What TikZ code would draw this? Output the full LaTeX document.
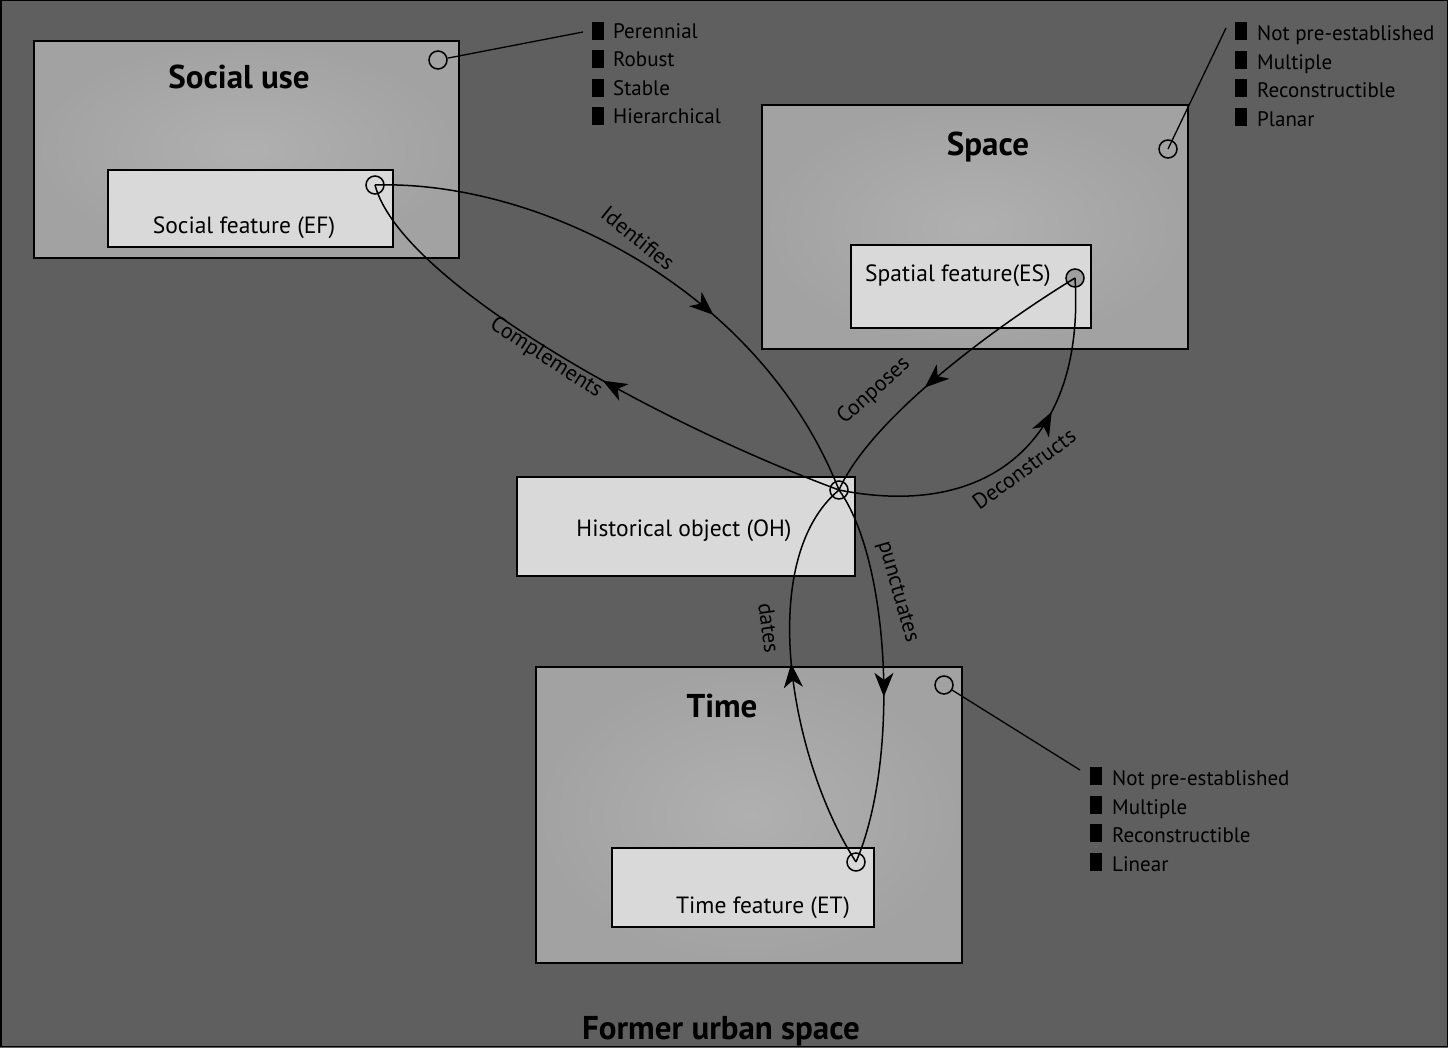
\documentclass[tikz,border=0pt]{standalone}
\usepackage{fontspec}
\setmainfont{PT Sans}
\usetikzlibrary{arrows.meta,decorations.markings}
\definecolor{groundgray}{HTML}{5F5F5F}
\definecolor{boxinner}{HTML}{B0B0B0}
\definecolor{boxouter}{HTML}{A2A2A2}
\definecolor{featgray}{HTML}{D9D9D9}
\tikzset{
  outerbox/.style={draw=black, line width=1.8pt, inner color=boxinner, outer color=boxouter},
  featbox/.style={draw=black, line width=1.8pt, fill=featgray},
  boxtitle/.style={font=\fontsize{33}{36}\selectfont\bfseries},
  feattext/.style={font=\fontsize{23.5}{26}\selectfont},
  port/.style={circle, draw=black, line width=1.5pt, minimum size=18pt, inner sep=0pt},
  sqbullet/.style={fill=black, minimum width=12pt, minimum height=18pt, inner sep=0pt},
  item/.style={anchor=west, inner sep=0pt, text height=15pt, text depth=4pt, font=\fontsize{21}{24}\selectfont},
  flowlabel/.style={inner sep=0pt, font=\fontsize{22}{24}\selectfont},
  flow/.style={line width=1.5pt, decoration={markings, mark=at position #1 with {\arrow{Stealth[length=24pt,width=19pt,inset=7pt]}}}, postaction=decorate},
  leader/.style={line width=1.3pt}
}
\begin{document}
\begin{tikzpicture}[x=1pt, y=-1pt]
        \fill[groundgray] (0,0) rectangle (1448,1048);
        \useasboundingbox (0,0) rectangle (1448,1048);
        \draw[line width=1.5pt] (0.75,0.75) rectangle (1447.25,1046.5);
        % boxes
        \node[outerbox, minimum width=425pt, minimum height=217pt] (SU) at (246.5,149.5) {};
        \node[boxtitle] (SU_t) at (239,77) {Social use};
        \node[featbox, minimum width=285pt, minimum height=77pt] (SF) at (250.5,208.5) {};
        \node[feattext] (SF_t) at (244,228) {Social feature (EF)};
        \node[outerbox, minimum width=426pt, minimum height=244pt] (SP) at (975,227) {};
        \node[boxtitle] (SP_t) at (988,147) {Space};
        \node[featbox, minimum width=240pt, minimum height=83pt] (ES) at (971,286.5) {};
        \node[feattext] (ES_t) at (958,276) {Spatial feature(ES)};
        \node[featbox, minimum width=338pt, minimum height=99pt] (OH) at (686,526.5) {};
        \node[feattext] (OH_t) at (684,531) {Historical object (OH)};
        \node[outerbox, minimum width=426pt, minimum height=296pt] (TI) at (749,815) {};
        \node[boxtitle] (TI_t) at (722,706) {Time};
        \node[featbox, minimum width=262pt, minimum height=79pt] (ET) at (743,887.5) {};
        \node[feattext] (ET_t) at (763,908) {Time feature (ET)};
        \node[boxtitle] (FU_t) at (721,1031) {Former urban space};
        % ports
        \node[port] (SU_p) at (438,60) {};
        \node[port] (SF_p) at (375,185) {};
        \node[port] (SP_p) at (1168,149) {};
        \node[port, fill=gray!75] (ES_p) at (1075,278) {};
        \node[port] (OH_p) at (839,490) {};
        \node[port] (TI_p) at (944,685) {};
        \node[port] (ET_p) at (856,862) {};
        % properties
        \foreach \t [count=\i] in {Perennial, Robust, Stable, Hierarchical} {
          \node[sqbullet] (SU_b\i) at (598,31+28.5*\i-28.5) {};
          \node[item] (SU_i\i) at (613,33+28.5*\i-28.5) {\t};
        }
        \foreach \t [count=\i] in {Not pre-established, Multiple, Reconstructible, Planar} {
          \node[sqbullet] (SP_b\i) at (1241,31+28.7*\i-28.7) {};
          \node[item] (SP_i\i) at (1257,35+28.7*\i-28.7) {\t};
        }
        \foreach \t [count=\i] in {Not pre-established, Multiple, Reconstructible, Linear} {
          \node[sqbullet] (TI_b\i) at (1096,776+28.7*\i-28.7) {};
          \node[item] (TI_i\i) at (1112,780+28.7*\i-28.7) {\t};
        }
        \coordinate (SU_l) at (583,32);
        \coordinate (SP_l) at (1226,28);
        \coordinate (TI_l) at (1080,770);
        \draw[leader] (SU_p) -- (SU_l);
        \draw[leader] (SP_p.center) -- (SP_l);
        \draw[leader] (TI_p) -- (TI_l);
        % relations
        \draw[flow=0.63] (SF_p.center) .. controls (540,180) and (760,290) .. (OH_p.center);
        \draw[flow=0.46] (OH_p.center) .. controls (650,420) and (400,280) .. (SF_p.center);
        \draw[flow=0.58] (ES_p.center) .. controls (990,330) and (870,420) .. (OH_p.center);
        \draw[flow=0.64] (OH_p.center) .. controls (990,520) and (1085,440) .. (ES_p.center);
        \draw[flow=0.53] (ET_p.center) .. controls (790,760) and (755,560) .. (OH_p.center);
        \draw[flow=0.56] (OH_p.center) .. controls (890,560) and (900,760) .. (ET_p.center);
        \node[flowlabel, rotate=-39] (L_id) at (638,238) {Identifies};
        \node[flowlabel, rotate=-33] (L_co) at (546,358) {Complements};
        \node[flowlabel, rotate=42] (L_cp) at (874,391) {Conposes};
        \node[flowlabel, rotate=36] (L_de) at (1024,469) {Deconstructs};
        \node[flowlabel, rotate=-82] (L_da) at (769,628) {dates};
        \node[flowlabel, rotate=-74] (L_pu) at (897,592) {punctuates};
      \end{tikzpicture}
\end{document}
